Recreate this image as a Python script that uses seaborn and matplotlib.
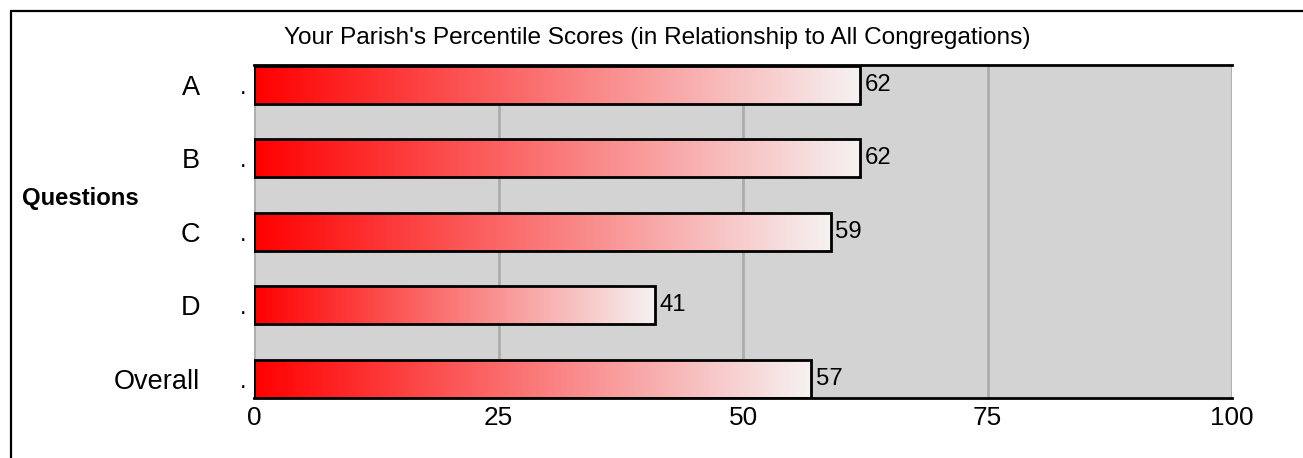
import numpy as np
import pandas as pd
import matplotlib
matplotlib.use("Agg")
import matplotlib.pyplot as plt
import matplotlib.transforms as mtransforms
from matplotlib.colors import LinearSegmentedColormap
from matplotlib.patches import Rectangle
import seaborn as sns

# Daten
fragen = ['A', 'B', 'C', 'D', 'Overall']
perzentile = [62, 62, 59, 41, 57]
x_ticks = [0, 25, 50, 75, 100]
titel = "Your Parish's Percentile Scores (in Relationship to All Congregations)"

df = pd.DataFrame({'Frage': fragen, 'Perzentil': perzentile})

sns.set_style('white')
plt.rcParams['font.family'] = ['Liberation Sans', 'DejaVu Sans']
plt.rcParams['text.color'] = 'black'
plt.rcParams['xtick.labelcolor'] = 'black'
plt.rcParams['ytick.labelcolor'] = 'black'

fig = plt.figure(figsize=(13.03, 4.58), dpi=100)
ax = fig.add_axes([254 / 1303, 1 - 398 / 458, 978 / 1303, 333 / 458])
ax.set_facecolor('#d3d3d3')

sns.barplot(data=df, x='Perzentil', y='Frage', orient='h', width=0.517,
            color='red', edgecolor='black', linewidth=2, ax=ax, zorder=3)

# Farbverlauf rot -> weiss in jedem Balken
verlauf = LinearSegmentedColormap.from_list('rw', ['#ff0000', '#f6f2f2'])
grad = np.linspace(0, 1, 256).reshape(1, -1)
for p in ax.patches:
    x0, y0 = p.get_x(), p.get_y()
    w, h = p.get_width(), p.get_height()
    im = ax.imshow(grad, extent=[x0, x0 + w, y0 + h, y0], aspect='auto',
                   cmap=verlauf, zorder=2, interpolation='bilinear')
    im.set_clip_path(p)
    p.set_facecolor('none')

# Werte neben den Balken
for i, v in enumerate(perzentile):
    ax.annotate(str(v), xy=(v, i), xytext=(3, 0), textcoords='offset points',
                va='center', ha='left', fontsize=17.2, color='black', zorder=4)

# Punkte vor den Balken
trans = mtransforms.blended_transform_factory(ax.transAxes, ax.transData)
for i in range(len(fragen)):
    ax.text(-0.0115, i + 0.12, '.', transform=trans, ha='center',
            va='baseline', fontsize=17, color='black')

ax.set_xlim(0, 100)
ax.set_ylim(4.26, -0.27)
ax.set_xticks(x_ticks)
ax.xaxis.grid(True, color='#acacac', linewidth=2)
ax.yaxis.grid(False)
ax.set_axisbelow(True)
ax.tick_params(axis='x', colors='#acacac', length=4, width=2, labelsize=18.8,
               labelcolor='black', pad=1.5)
ax.tick_params(axis='y', length=0, labelsize=19.5, labelcolor='black', pad=39)
ax.set_xlabel('')
ax.set_ylabel('')

for s in ['left', 'right']:
    ax.spines[s].set_visible(False)
for s in ['top', 'bottom']:
    ax.spines[s].set_color('black')
    ax.spines[s].set_linewidth(2)
    ax.spines[s].set_zorder(5)

# Titel und Achsenbeschriftung
fig.text(657 / 1303, 1 - 38 / 458, titel, ha='center', va='center',
         fontsize=17.6, color='black')
fig.text(22 / 1303, 1 - 198 / 458, 'Questions', ha='left', va='center',
         fontsize=17.2, fontweight='bold', color='black')

# Rahmen
fig.patches.append(Rectangle((10.5 / 1303, -0.2), 1.2, 1.2 - 10.5 / 458,
                             transform=fig.transFigure, fill=False,
                             edgecolor='black', linewidth=1.6))

fig.savefig('out.png', dpi=100)
